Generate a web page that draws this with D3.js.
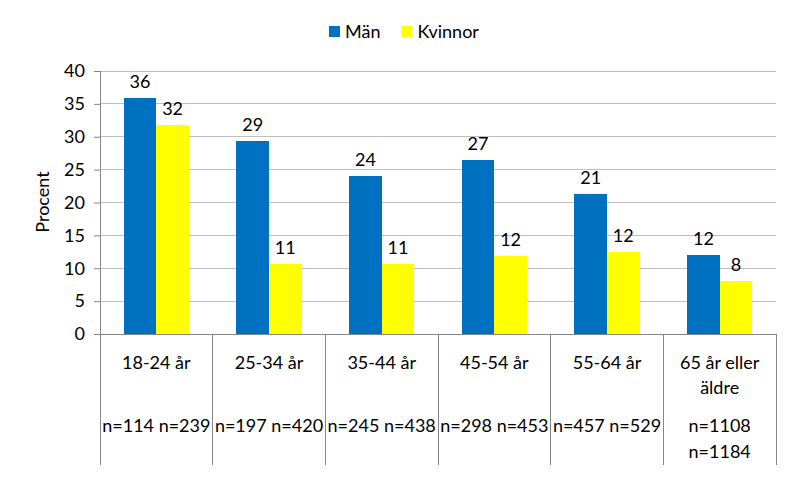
<!DOCTYPE html>
<html><head><meta charset="utf-8">
<script src="https://cdn.jsdelivr.net/npm/d3@7"></script>
<style>
body{margin:0;background:#fff;}
text{font-family:Lato,"Noto Sans",sans-serif;fill:#000;}
</style></head>
<body>
<svg id="c" width="797" height="478"></svg>
<script>
const categories = [["18-24 år"],["25-34 år"],["35-44 år"],["45-54 år"],["55-64 år"],["65 år eller","äldre"]];
const nLabels = [["n=114 n=239"],["n=197 n=420"],["n=245 n=438"],["n=298 n=453"],["n=457 n=529"],["n=1108","n=1184"]];
const seriesNames = ["Män","Kvinnor"];
const man = [35.9, 29.4, 24.0, 26.5, 21.3, 12.0];
const kvinnor = [31.8, 10.7, 10.7, 11.9, 12.4, 8.0];
const yTicks = [0,5,10,15,20,25,30,35,40];
const colors = ["#0070C0","#FFFF00"];

const svg = d3.select("#c");
const L=100, R=776, T=71, B=334, bottomEnd=465;
const fs = 18;

const x0 = d3.scaleBand().domain(d3.range(categories.length)).range([L,R]).padding(0);
const x1 = d3.scaleBand().domain(seriesNames).range([0,x0.bandwidth()]).paddingInner(0).paddingOuter(0.73);
const y = d3.scaleLinear().domain([0,40]).range([B,T]);

// gridlines
svg.append("g").selectAll("line").data(yTicks.filter(d=>d>0)).join("line")
  .attr("x1",L).attr("x2",R).attr("y1",d=>y(d)).attr("y2",d=>y(d))
  .attr("stroke","#BFBFBF").attr("stroke-width",1).attr("shape-rendering","crispEdges");

// bars
const data = seriesNames.map((s,i)=>({name:s, values: i===0?man:kvinnor, color:colors[i]}));
const g = svg.append("g");
data.forEach(s=>{
  g.append("g").selectAll("rect").data(s.values).join("rect")
    .attr("x",(d,i)=>x0(i)+x1(s.name)).attr("width",x1.bandwidth())
    .attr("y",d=>y(d)).attr("height",d=>B-y(d)).attr("fill",s.color)
    .attr("shape-rendering","crispEdges");
  g.append("g").selectAll("text").data(s.values).join("text")
    .attr("x",(d,i)=>x0(i)+x1(s.name)+x1.bandwidth()/2).attr("y",d=>y(d)-10)
    .attr("text-anchor","middle").attr("font-size",fs)
    .text(d=>Math.round(d));
});

// y axis
const ya = d3.axisLeft(y).tickValues(yTicks).tickSize(6).tickPadding(9);
const yg = svg.append("g").attr("transform",`translate(${L},0)`).call(ya);
yg.select(".domain").remove();
yg.selectAll(".tick line").attr("stroke","#868686");
yg.selectAll(".tick text").attr("font-size",fs).attr("font-family","Lato,'Noto Sans',sans-serif").attr("fill","#000");
svg.append("line").attr("x1",L).attr("x2",L).attr("y1",T).attr("y2",bottomEnd)
  .attr("stroke","#868686").attr("shape-rendering","crispEdges");
svg.append("line").attr("x1",L).attr("x2",R).attr("y1",B).attr("y2",B)
  .attr("stroke","#868686").attr("shape-rendering","crispEdges");

// category dividers
const bounds = d3.range(categories.length+1).map(i=> i<categories.length ? x0(i) : R);
svg.append("g").selectAll("line").data(bounds.slice(1)).join("line")
  .attr("x1",d=>d).attr("x2",d=>d).attr("y1",B).attr("y2",bottomEnd)
  .attr("stroke","#868686").attr("shape-rendering","crispEdges");

// category labels
const cg = svg.append("g");
categories.forEach((lines,i)=>{
  const cx = x0(i)+x0.bandwidth()/2;
  lines.forEach((t,j)=>{
    cg.append("text").attr("x",cx).attr("y",369+j*24.5).attr("text-anchor","middle").attr("font-size",fs).text(t);
  });
  nLabels[i].forEach((t,j)=>{
    cg.append("text").attr("x",cx).attr("y",432+j*25.5).attr("text-anchor","middle").attr("font-size",fs).text(t);
  });
});

// y label
svg.append("text").attr("transform","translate(43,202) rotate(-90)").attr("dy","0.35em")
  .attr("text-anchor","middle").attr("font-size",fs).text("Procent");

// legend
const lg = svg.append("g");
let lx = 329;
data.forEach((s,i)=>{
  lg.append("rect").attr("x",lx).attr("y",26).attr("width",11).attr("height",11).attr("fill",s.color);
  const t = lg.append("text").attr("x",lx+16).attr("y",38).attr("font-size",fs).text(s.name);
  lx += 16 + t.node().getComputedTextLength() + 21;
});
</script>
</body></html>
